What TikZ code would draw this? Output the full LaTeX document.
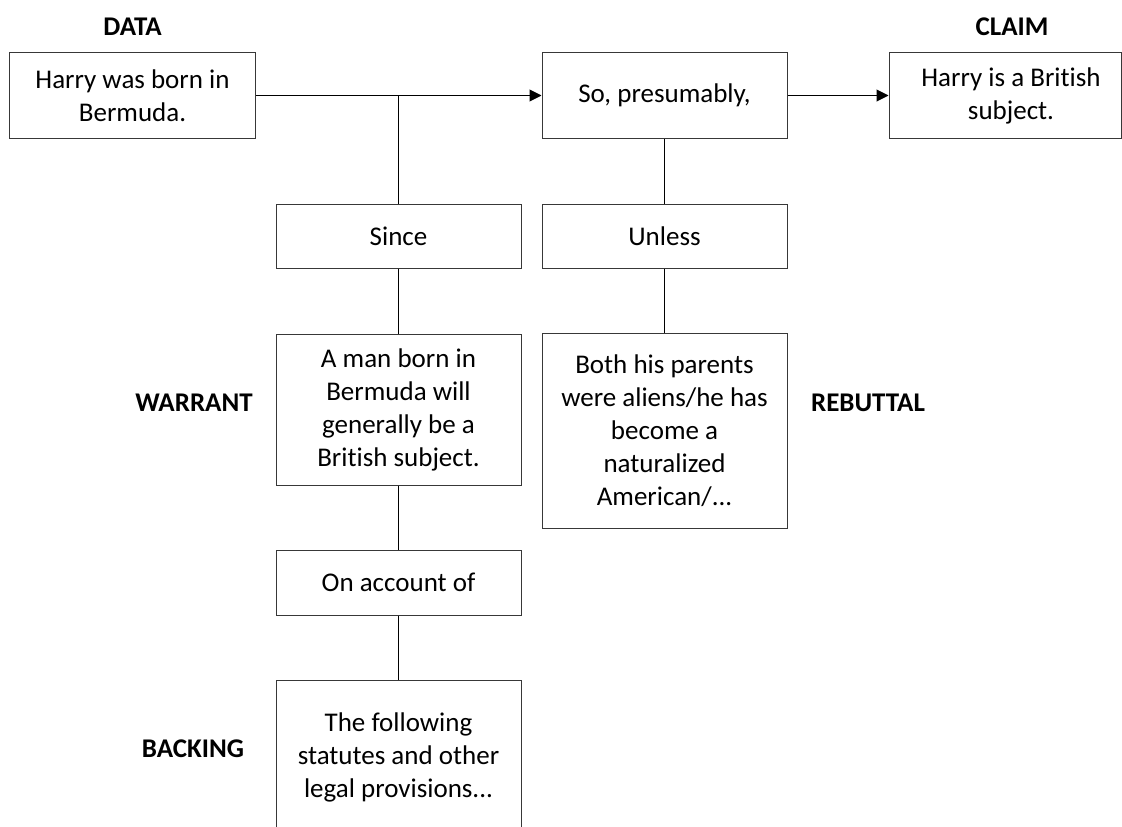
\documentclass[tikz,border=0pt]{standalone}
\usepackage{fontspec}
\setmainfont{Carlito}[Ligatures=NoCommon]
\usetikzlibrary{arrows.meta}
\begin{document}
\begin{tikzpicture}[x=1pt, y=-1pt,
  box/.style={draw=black!78, line width=1pt, rectangle, inner sep=0pt,
    align=center, font=\fontsize{27}{33}\selectfont},
  tag/.style={font=\fontsize{27}{33}\selectfont\bfseries, inner sep=0pt},
  link/.style={draw=black, line width=1pt},
  flow/.style={link, -{Triangle[length=12pt, width=12pt]}}]
  % page frame
  \path[use as bounding box] (0,0) rectangle (1122,827);

  % top row: data, qualifier, claim
  \node[box, minimum width=246pt, minimum height=86pt] (data) at (132.5,95.5)
    {Harry was born in\\Bermuda.};
  \node[box, minimum width=245pt, minimum height=86pt] (so) at (664.5,95.5)
    {So, presumably,};
  \node[box, minimum width=232pt, minimum height=86pt] (claim) at (1005,95.5)
    {\hspace*{12pt}Harry is a British\\\hspace*{12pt}subject.};

  % warrant column
  \node[box, minimum width=245pt, minimum height=64pt] (since) at (398.5,236)
    {Since};
  \node[box, minimum width=245pt, minimum height=151pt] (warrant) at (398.5,409.5)
    {A man born in\\Bermuda will\\generally be a\\British subject.};
  \node[box, minimum width=245pt, minimum height=65pt] (onacc) at (398.5,582.5)
    {On account of};
  \node[box, minimum width=245pt, minimum height=154pt] (backing) at (398.5,757)
    {The following\\statutes and other\\legal provisions...};

  % rebuttal column
  \node[box, minimum width=245pt, minimum height=64pt] (unless) at (664.5,236)
    {Unless};
  \node[box, minimum width=245pt, minimum height=195pt] (rebuttal) at (664.5,431)
    {Both his parents\\were aliens/he has\\become a\\naturalized\\American/...};

  % side labels
  \node[tag] (tdata) at (132.5,27) {DATA};
  \node[tag] (tclaim) at (1012,27) {CLAIM};
  \node[tag] (twarrant) at (194,403) {WARRANT};
  \node[tag] (trebuttal) at (868,403) {REBUTTAL};
  \node[tag] (tbacking) at (193,749) {BACKING};

  % connectors
  \coordinate (j) at (since.north |- data.east);
  \draw[flow] (data.east) -- (so.west);
  \draw[flow] (so.east) -- (claim.west);
  \draw[link] (j) -- (since.north);
  \draw[link] (since.south) -- (warrant.north);
  \draw[link] (warrant.south) -- (onacc.north);
  \draw[link] (onacc.south) -- (backing.north);
  \draw[link] (so.south) -- (unless.north);
  \draw[link] (unless.south) -- (rebuttal.north);
\end{tikzpicture}
\end{document}
